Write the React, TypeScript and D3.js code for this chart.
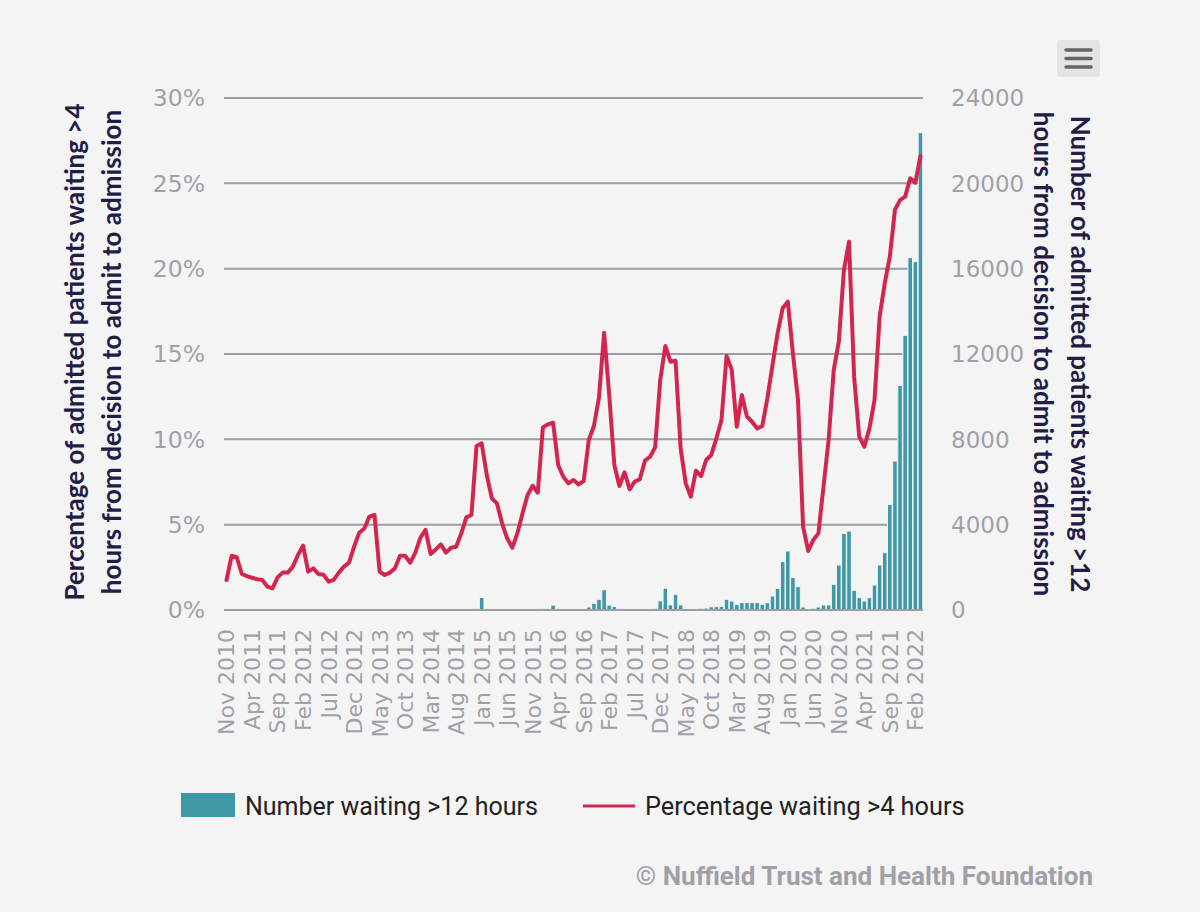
import React from "react";
import * as d3 from "d3";

// ---- Data ----
const categories: string[] = d3
  .timeMonth.range(new Date(2010, 10, 1), new Date(2022, 3, 1))
  .map((d) => d3.timeFormat("%b %Y")(d)); // Nov 2010 .. Mar 2022

const tickLabels: string[] = [
  "Nov 2010", "Apr 2011", "Sep 2011", "Feb 2012", "Jul 2012", "Dec 2012", "May 2013",
  "Oct 2013", "Mar 2014", "Aug 2014", "Jan 2015", "Jun 2015", "Nov 2015", "Apr 2016",
  "Sep 2016", "Feb 2017", "Jul 2017", "Dec 2017", "May 2018", "Oct 2018", "Mar 2019",
  "Aug 2019", "Jan 2020", "Jun 2020", "Nov 2020", "Apr 2021", "Sep 2021", "Feb 2022",
];

// Percentage waiting >4 hours (left axis, %)
const pctWaiting4h: number[] = [
  1.76, 3.18, 3.09, 2.11, 1.99, 1.89, 1.8, 1.76, 1.37, 1.27,
  1.91, 2.19, 2.19, 2.54, 3.22, 3.77, 2.25, 2.44, 2.11, 2.07,
  1.66, 1.76, 2.19, 2.54, 2.77, 3.71, 4.53, 4.78, 5.47, 5.57,
  2.25, 2.05, 2.19, 2.44, 3.18, 3.18, 2.77, 3.36, 4.24, 4.69,
  3.28, 3.55, 3.85, 3.36, 3.65, 3.71, 4.49, 5.43, 5.57, 9.61,
  9.77, 7.91, 6.54, 6.25, 5.08, 4.2, 3.65, 4.49, 5.66, 6.74,
  7.28, 6.87, 10.7, 10.88, 10.97, 8.5, 7.81, 7.42, 7.62, 7.36,
  7.56, 9.96, 10.78, 12.46, 16.25, 12.6, 8.5, 7.27, 8.07, 7.07,
  7.52, 7.66, 8.75, 8.98, 9.53, 13.48, 15.47, 14.55, 14.61, 9.47,
  7.42, 6.64, 8.16, 7.85, 8.79, 9.08, 10.06, 11.13, 14.88, 14.1,
  10.74, 12.6, 11.33, 11.03, 10.64, 10.78, 12.4, 14.35, 16.21, 17.68,
  18.07, 15.04, 12.3, 4.88, 3.46, 4.1, 4.49, 7.23, 9.96, 14.06,
  15.72, 19.92, 21.58, 13.67, 10.16, 9.57, 10.64, 12.3, 17.19, 19.14,
  20.7, 23.44, 24.02, 24.22, 25.29, 25.04, 26.6,
];

// Number waiting >12 hours (right axis)
const numWaiting12h: number[] = [
  0, 0, 5, 15, 2, 0, 0, 0, 0, 0,
  0, 0, 0, 5, 10, 15, 0, 0, 0, 0,
  0, 0, 0, 0, 5, 5, 10, 10, 15, 20,
  0, 0, 0, 0, 5, 5, 0, 0, 5, 10,
  0, 0, 0, 0, 0, 0, 5, 10, 20, 60,
  590, 60, 10, 0, 0, 0, 0, 0, 0, 0,
  5, 20, 60, 60, 230, 60, 10, 5, 5, 5,
  20, 140, 310, 500, 950, 230, 160, 60, 20, 10,
  5, 5, 10, 20, 60, 430, 1020, 240, 740, 240,
  20, 30, 50, 80, 90, 150, 160, 170, 500, 420,
  265, 345, 345, 345, 345, 265, 345, 656, 1016, 2266,
  2766, 1516, 1094, 140, 30, 80, 140, 235, 235, 1203,
  2110, 3594, 3703, 922, 578, 422, 578, 1172, 2110, 2688,
  4953, 6984, 10531, 12875, 16516, 16328, 22375,
];

const pctTicks: number[] = [0, 5, 10, 15, 20, 25, 30];
const numTicks: number[] = [0, 4000, 8000, 12000, 16000, 20000, 24000];

// ---- Styles ----
const BG = "#f4f4f4";
const GRID = "#9d9da6";
const TICK = "#a0a0a9";
const TITLE = "#221d47";
const TEAL = "#3f98a5";
const RED = "#d3264f";
const TICK_FONT = "'DejaVu Sans', sans-serif";
const TITLE_FONT = "Lato, 'Open Sans', sans-serif";
const LEGEND_FONT = "Roboto, sans-serif";

export default function App() {
  const W = 1200;
  const H = 912;
  const left = 224;
  const right = 923;
  const top = 98;
  const bottom = 610;

  const x = d3
    .scaleBand<number>()
    .domain(d3.range(categories.length))
    .range([left, right])
    .padding(0);
  const cx = (i: number) => (x(i) as number) + x.bandwidth() / 2;
  const yL = d3.scaleLinear().domain([0, 30]).range([bottom, top]);
  const yR = d3.scaleLinear().domain([0, 24000]).range([bottom, top]);

  const linePath = d3
    .line<number>()
    .x((_, i) => cx(i))
    .y((d) => yL(d))(pctWaiting4h) as string;

  const barW = x.bandwidth() * 0.9;

  return (
    <div style={{ position: "absolute", left: 0, top: 0 }}>
      <svg width={W} height={H} viewBox={`0 0 ${W} ${H}`} style={{ display: "block" }}>
        <rect x={0} y={0} width={W} height={H} fill={BG} />

        {/* gridlines */}
        {pctTicks
          .filter((t) => t !== 0)
          .map((t) => (
            <line key={t} x1={left} x2={right} y1={yL(t)} y2={yL(t)} stroke={GRID} strokeWidth={2} />
          ))}

        {/* bars */}
        {numWaiting12h.map((v, i) =>
          v > 0 ? (
            <rect
              key={i}
              x={cx(i) - barW / 2}
              y={yR(v)}
              width={barW}
              height={bottom - yR(v)}
              fill={TEAL}
              stroke={BG}
              strokeWidth={1}
            />
          ) : null
        )}

        {/* baseline */}
        <line x1={left} x2={right} y1={yL(0)} y2={yL(0)} stroke={GRID} strokeWidth={2} />

        {/* line */}
        <path d={linePath} fill="none" stroke={RED} strokeWidth={4} strokeLinejoin="round" strokeLinecap="round" />

        {/* left ticks */}
        {pctTicks.map((t) => (
          <text key={t} x={205} y={yL(t)} dy="0.36em" textAnchor="end" fontFamily={TICK_FONT} fontSize={23.5} fill={TICK}>
            {`${t}%`}
          </text>
        ))}

        {/* right ticks */}
        {numTicks.map((t) => (
          <text key={t} x={951} y={yR(t)} dy="0.36em" textAnchor="start" fontFamily={TICK_FONT} fontSize={23} fill={TICK}>
            {`${t}`}
          </text>
        ))}

        {/* x labels */}
        {tickLabels.map((lab) => {
          const i = categories.indexOf(lab);
          return (
            <text
              key={lab}
              transform={`translate(${cx(i)},${629}) rotate(-90)`}
              dy="0.36em"
              textAnchor="end"
              fontFamily={TICK_FONT}
              fontSize={22}
              fill={TICK}
            >
              {lab}
            </text>
          );
        })}

        {/* left title */}
        <text transform={`translate(75,352) rotate(-90)`} dy="0.36em" textAnchor="middle" fontFamily={TITLE_FONT} fontWeight="bold" fontSize={26} fill={TITLE}>
          Percentage of admitted patients waiting &gt;4
        </text>
        <text transform={`translate(112,352) rotate(-90)`} dy="0.36em" textAnchor="middle" fontFamily={TITLE_FONT} fontWeight="bold" fontSize={26} fill={TITLE}>
          hours from decision to admit to admission
        </text>

        {/* right title */}
        <text transform={`translate(1080,354) rotate(90)`} dy="0.36em" textAnchor="middle" fontFamily={TITLE_FONT} fontWeight="bold" fontSize={26} fill={TITLE}>
          Number of admitted patients waiting &gt;12
        </text>
        <text transform={`translate(1043,354) rotate(90)`} dy="0.36em" textAnchor="middle" fontFamily={TITLE_FONT} fontWeight="bold" fontSize={26} fill={TITLE}>
          hours from decision to admit to admission
        </text>

        {/* menu icon */}
        <rect x={1057} y={40} width={43} height={37} rx={3} fill="#e4e4e4" />
        {[50, 58.5, 67].map((yy) => (
          <line key={yy} x1={1066} x2={1091} y1={yy} y2={yy} stroke="#666" strokeWidth={3.5} strokeLinecap="round" />
        ))}

        {/* legend */}
        <rect x={181} y={793} width={54} height={24} fill={TEAL} />
        <text x={245} y={815} fontFamily={LEGEND_FONT} fontSize={25} fill="#222">
          Number waiting &gt;12 hours
        </text>
        <line x1={583} x2={635} y1={806} y2={806} stroke={RED} strokeWidth={3} />
        <text x={645} y={815} fontFamily={LEGEND_FONT} fontSize={25.3} fill="#222">
          Percentage waiting &gt;4 hours
        </text>

        {/* credits */}
        <text x={1093} y={885} textAnchor="end" fontFamily={LEGEND_FONT} fontWeight="bold" fontSize={26} fill={TICK}>
          © Nuffield Trust and Health Foundation
        </text>
      </svg>
    </div>
  );
}
